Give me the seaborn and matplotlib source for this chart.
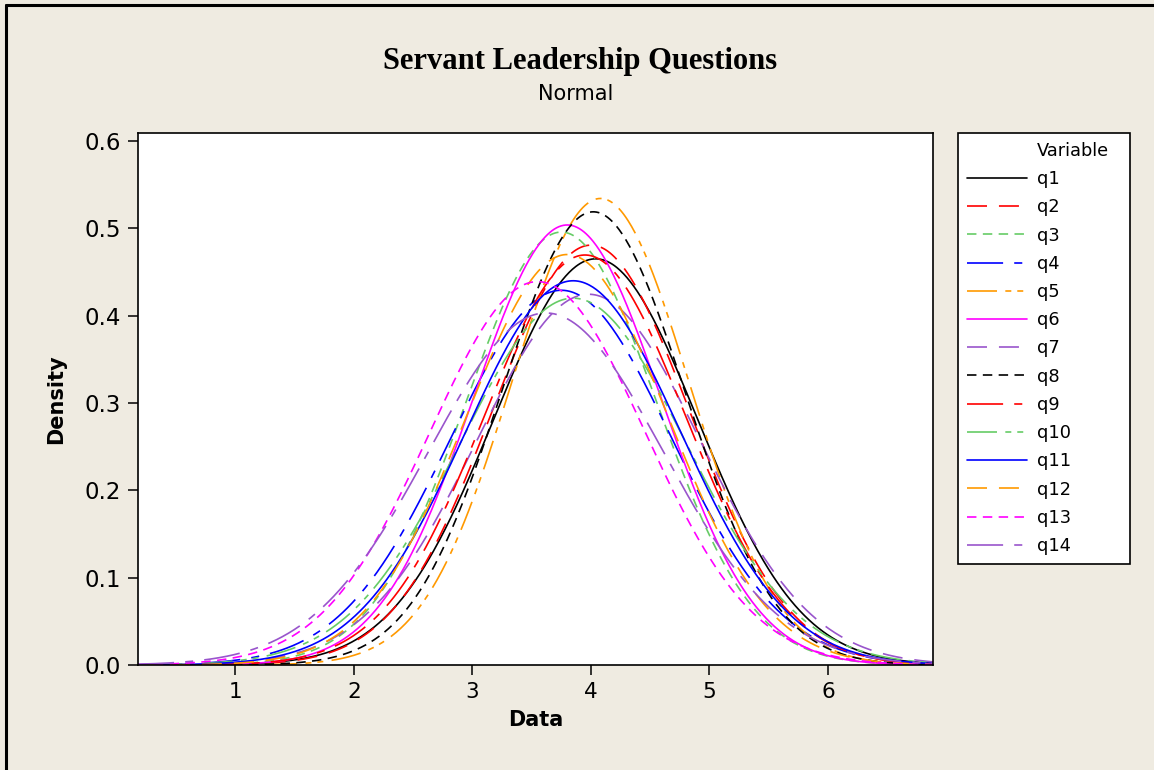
import numpy as np
import pandas as pd
import matplotlib
matplotlib.use("Agg")
import matplotlib.pyplot as plt
from matplotlib.lines import Line2D
import seaborn as sns

# Normal fits for each survey item
variables = ["q1", "q2", "q3", "q4", "q5", "q6", "q7",
             "q8", "q9", "q10", "q11", "q12", "q13", "q14"]
means = [4.04, 4.00, 3.75, 3.75, 4.08, 3.80, 3.98,
         4.02, 3.95, 3.85, 3.85, 3.80, 3.55, 3.62]
std_devs = [0.858, 0.830, 0.805, 0.930, 0.747, 0.792, 0.940,
            0.769, 0.850, 0.950, 0.907, 0.849, 0.909, 0.990]

x_ticks = [1, 2, 3, 4, 5, 6]
y_ticks = [0.0, 0.1, 0.2, 0.3, 0.4, 0.5, 0.6]

# Line styles: colours cycle over 7, dash patterns over 5
color_cycle = ["#000000", "#FF0000", "#66CC66", "#0000FF",
               "#FF9900", "#FF00FF", "#9955CC"]
dash_cycle = [
    "",                                   # solid
    (14.4, 8.6),                          # long dash
    (6.8, 4.6),                           # short dash
    (26.0, 8.0, 5.8, 8.0),                # long-short
    (21.6, 6.0, 4.3, 4.3, 4.3, 6.0),      # long-short-short
]
palette = {v: color_cycle[i % 7] for i, v in enumerate(variables)}
dashes = {v: dash_cycle[i % 5] for i, v in enumerate(variables)}

x_min, x_max = 0.18, 6.885
grid = np.linspace(x_min, x_max, 700)
frames = []
for v, m, s in zip(variables, means, std_devs):
    dens = np.exp(-0.5 * ((grid - m) / s) ** 2) / (s * np.sqrt(2 * np.pi))
    frames.append(pd.DataFrame({"Data": grid, "Density": dens, "Variable": v}))
df = pd.concat(frames, ignore_index=True)

sns.set_style("white")
plt.rcParams["font.family"] = ["DejaVu Sans"]
plt.rcParams["lines.scale_dashes"] = False
plt.rcParams["text.color"] = "black"
plt.rcParams["axes.labelcolor"] = "black"
plt.rcParams["legend.labelcolor"] = "black"

bg = "#EFEBE1"
fig = plt.figure(figsize=(11.54, 7.70), dpi=100, facecolor=bg)
W, H = 1154, 770
ax = fig.add_axes([138 / W, 1 - 665 / H, (933 - 138) / W, (665 - 133) / H])
ax.set_facecolor("white")

sns.lineplot(data=df, x="Data", y="Density", hue="Variable", style="Variable",
             hue_order=variables, style_order=variables,
             palette=palette, dashes=dashes, linewidth=1.2,
             legend=False, ax=ax)

ax.set_xlim(x_min, x_max)
ax.set_ylim(0, 0.609)
ax.set_xticks(x_ticks)
ax.set_xticklabels([str(t) for t in x_ticks])
ax.set_yticks(y_ticks)
ax.set_yticklabels([f"{t:.1f}" for t in y_ticks])
ax.tick_params(axis="both", direction="out", length=7, width=1.1,
               color="black", pad=5.5, labelcolor="black")
ax.tick_params(axis="x", labelsize=15.5)
ax.tick_params(axis="y", labelsize=16.5)
ax.tick_params(axis="both", bottom=True, left=True)
for sp in ax.spines.values():
    sp.set_visible(True)
    sp.set_color("black")
    sp.set_linewidth(1.2)

ax.set_xlabel("Data", fontsize=15, fontweight="bold")
ax.set_ylabel("Density", fontsize=15, fontweight="bold")
ax.xaxis.set_label_coords(0.5, -0.085)
ax.yaxis.set_label_coords(-0.09, 0.5)

# Legend with a text-only header row
handles = [Line2D([], [], color="none", label="Variable")]
for v in variables:
    d = dashes[v]
    h = Line2D([], [], color=palette[v], linewidth=1.2, label=v)
    if d:
        h.set_dashes(d)
    handles.append(h)
leg = fig.legend(handles=handles, loc="upper left",
                 bbox_to_anchor=(958 / W, 1 - 558 / H, (1130 - 958) / W, (558 - 133) / H),
                 bbox_transform=fig.transFigure, mode="expand",
                 fontsize=12.8, handlelength=3.37, handletextpad=0.56,
                 labelspacing=0.575, borderpad=0.5, borderaxespad=0,
                 fancybox=False, framealpha=1, facecolor="white",
                 edgecolor="black")
leg.get_frame().set_linewidth(1.2)

fig.text(580 / W, 1 - 62 / H, "Servant Leadership Questions",
         ha="center", va="center", fontsize=22, fontweight="bold",
         family=["Liberation Serif", "DejaVu Serif"])
fig.text(576 / W, 1 - 94 / H, "Normal", ha="center", va="center", fontsize=15)

# Outer frame lines along the top and left edges
fig.add_artist(Line2D([6 / W, 1.0], [1 - 5 / H, 1 - 5 / H], color="black",
                      linewidth=2.2, transform=fig.transFigure))
fig.add_artist(Line2D([6 / W, 6 / W], [0.0, 1 - 5 / H], color="black",
                      linewidth=2.2, transform=fig.transFigure))

fig.savefig("out.png", dpi=100, facecolor=bg)
